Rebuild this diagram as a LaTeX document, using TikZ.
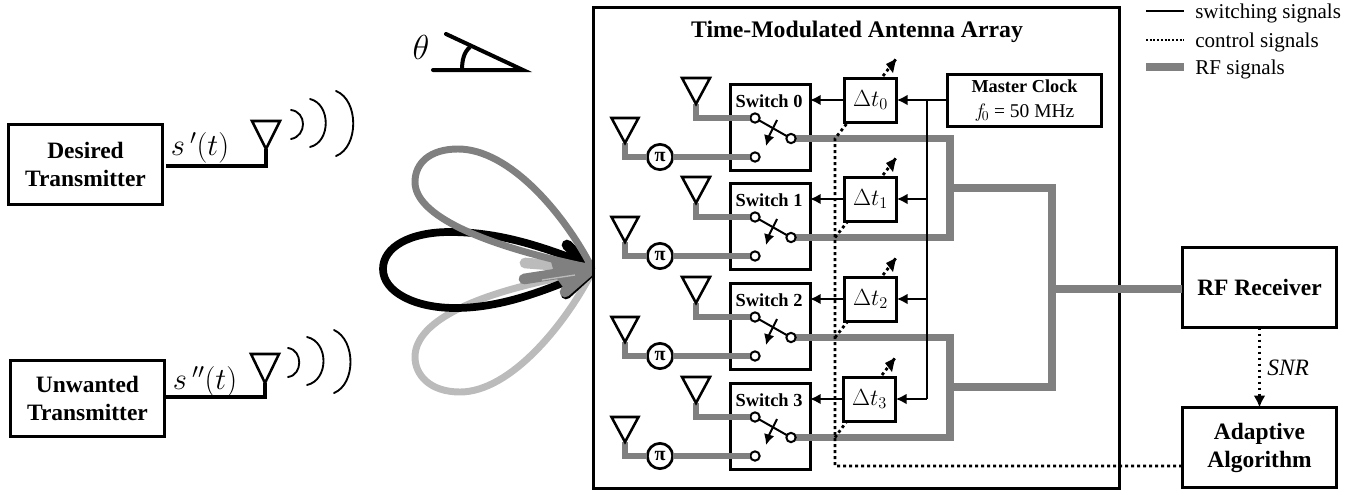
\documentclass[tikz,border=0pt]{standalone}
\usepackage{fix-cm}
\usepackage{fontspec}
\setmainfont{Liberation Serif}
\usetikzlibrary{arrows.meta}
\definecolor{rfgray}{HTML}{808080}
\definecolor{lobelight}{HTML}{BBBBBB}
\tikzset{
  x=0.75pt,y=-0.75pt,
  box/.style={draw,line width=2.25pt,inner sep=0pt,outer sep=0pt,align=center},
  mainbox/.style={box,font=\fontsize{17.6}{21}\selectfont\bfseries,minimum width=116pt,minimum height=60pt},
  switchbox/.style={box,minimum width=60pt,minimum height=64pt},
  delaybox/.style={box,minimum width=39.5pt,minimum height=33pt},
  rf/.style={draw=rfgray,line width=5.7pt},
  rfthin/.style={draw=rfgray,line width=4.4pt},
  antenna/.style={draw,line width=1.9pt,line join=miter,fill=white},
  feed/.style={draw,line width=3pt},
  ctrl/.style={line width=2.1pt,dash pattern=on 2.2pt off 2.3pt},
  sw/.style={line width=1.5pt,-{Latex[length=8pt,width=8pt]}},
  ctip/.style={-{Latex[length=9pt,width=9pt]}},
  contact/.style={circle,draw,line width=1.5pt,fill=white,minimum size=7pt,inner sep=0pt,outer sep=0pt},
  phase/.style={circle,draw,line width=2pt,fill=white,minimum size=19pt,inner sep=0pt,outer sep=0pt,font=\fontsize{15}{15}\selectfont\bfseries},
  wave/.style={line width=1.4pt,line cap=round},
  lobe/.style={line width=5.2pt,line join=round},
  barb/.style={line width=8pt,line cap=round},
  legendtxt/.style={anchor=west,inner sep=0pt,font=\fontsize{15.8}{16}\selectfont},
}
\begin{document}
\begin{tikzpicture}
\useasboundingbox (0,0) rectangle (1364,493);

% lobes
\draw[lobelight,lobe] (592,272) .. controls (565,325) and (510,392) .. (460,392) .. controls (430,392) and (415,375) .. (415,357) .. controls (415,320) and (480,290) .. (592,272);
\draw[lobelight,barb] (525,263) -- (590,268);
\draw[black,lobe,line width=5.8pt] (590,265) .. controls (550,250) and (505,232) .. (450,232) .. controls (410,232) and (383,247) .. (383,269) .. controls (383,292) and (415,308) .. (455,308) .. controls (505,308) and (550,288) .. (590,272);
\draw[black,barb] (567,245) -- (588,265);
\draw[black,barb] (566,294) -- (588,274);
\draw[rfgray,lobe] (592,268) .. controls (565,215) and (510,149) .. (458,149) .. controls (430,149) and (415,163) .. (415,182) .. controls (415,215) and (480,245) .. (592,268);
\fill[rfgray] (550,258) -- (592,264) -- (592,274) -- (565,290) -- (555,276) -- cycle;
\draw[rfgray,barb] (565,292) -- (588,272);
\draw[rfgray,barb] (524,279) -- (588,269);
\draw[lobelight,line width=1pt] (542,280) -- (575,275);

% angle
\node[inner sep=0pt,font=\fontsize{26}{26}\selectfont] (theta) at (421,47) {$\theta$};
\coordinate (apex) at (523,70);
\coordinate (baseend) at (433,70);
\coordinate (rayend) at (446,34);
\draw[line width=3pt,line cap=round] (baseend) -- (apex) -- (rayend);
\draw[line width=3pt] (462,70) .. controls (462,60) and (464,52) .. (470,47);

% transmitters
\node[mainbox] (tx1) at (85.5,164) {Desired\\Transmitter};
\node[mainbox,minimum height=57pt] (tx2) at (87.5,398) {\raisebox{-1pt}{Unwanted}\\\raisebox{-1pt}{Transmitter}};
\node[inner sep=0pt,font=\fontsize{23}{23}\selectfont] (s1) at (200,148) {$s\,'(t)$};
\node[inner sep=0pt,font=\fontsize{23}{23}\selectfont] (s2) at (205,382) {$s\,''(t)$};
\coordinate (w1) at (166,166); \coordinate (w1c) at (266,166); \coordinate (t1) at (266,149);
\coordinate (w2) at (165,397); \coordinate (w2c) at (265,397); \coordinate (t2) at (265,383);
\draw[feed,line join=miter] (w1) -- (w1c) -- (t1);
\draw[feed,line join=miter] (w2) -- (w2c) -- (t2);
\draw[antenna] (t1) -- (252,121) -- (280,121) -- cycle;
\draw[antenna] (t2) -- (251,354) -- (279,354) -- cycle;
\draw[wave] (291,110) .. controls (307,112) and (307,136) .. (291,139);
\draw[wave] (310,99) .. controls (331,104) and (331,142) .. (310,147);
\draw[wave] (336,91) .. controls (359,100) and (359,147) .. (336,156);
\draw[wave] (288,348) .. controls (303,350) and (303,375) .. (288,377);
\draw[wave] (307,337) .. controls (329,342) and (329,380) .. (307,385);
\draw[wave] (334,330) .. controls (356,340) and (356,384) .. (334,393);

% array frame and blocks
\node[box,minimum width=394.5pt,minimum height=361pt] (array) at (856,248) {};
\node[inner sep=0pt,font=\fontsize{17.8}{20}\selectfont\bfseries] (title) at (857,32) {Time-Modulated Antenna Array};
\node[box,minimum width=116pt,minimum height=39.5pt,font=\fontsize{13.7}{19}\selectfont] (clock) at (1024.5,100.5) {\raisebox{-1.5pt}{\textbf{Master Clock}}\\\raisebox{-1.5pt}{\fontsize{14.6}{19}\selectfont$f_{\!0}$ = 50 MHz}};
\node[mainbox] (rx) at (1259.5,287.5) {RF Receiver};
\node[mainbox] (adapt) at (1259.5,447.5) {Adaptive\\Algorithm};

% RF bus
\coordinate (bA) at (950,188); \coordinate (bB) at (950,387);
\coordinate (jA) at (1052,188); \coordinate (jB) at (1052,387); \coordinate (jR) at (1052,289);
\coordinate (rxin) at (1182,289);
\draw[rf,line join=miter] (bA) -- (jA) -- (jB) -- (bB);
\draw[rf] (jR) -- (rxin);

% one row per switch
\foreach \i/\dy/\dx in {0/0/0,1/99/0,2/199/0,3/299/-1}{
  \node[switchbox] (sw\i) at (770,127.5+\dy) {};
  \node[inner sep=0pt,font=\fontsize{13.8}{14}\selectfont\bfseries] (swl\i) at (769,101+\dy) {Switch \i};
  \node[delaybox,font=\fontsize{17.5}{18}\selectfont] (dt\i) at (870.5+\dx,100+\dy) {$\Delta t_{\i}$};
  \coordinate (ta\i) at (696,104+\dy);
  \coordinate (tac\i) at (696,118+\dy);
  \coordinate (tb\i) at (625,143+\dy);
  \coordinate (tbc\i) at (625,157+\dy);
  \node[contact] (ca\i) at (755,118+\dy) {};
  \node[contact] (cb\i) at (755,157+\dy) {};
  \node[phase] (pi\i) at (660,157+\dy) {π};
  \draw[rfthin,line join=miter] (ta\i) -- (tac\i) -- (ca\i);
  \draw[rfthin,line join=miter] (tb\i) -- (tbc\i) -- (pi\i);
  \draw[rfthin] (pi\i) -- (cb\i);
  \draw[antenna] (ta\i) -- ++(-14,-26) -- ++(28,0) -- cycle;
  \draw[antenna] (tb\i) -- ++(-13.5,-25) -- ++(27,0) -- cycle;
  % output lead over the switch border
  \coordinate (ob\i) at (950,138.5+\dy);
  \draw[rf] (791,138.5+\dy) -- (ob\i);
  \node[contact] (co\i) at (791,138.5+\dy) {};
  \draw[line width=1.5pt] (ca\i) -- (co\i);
  \draw[sw] (777,120+\dy) .. controls (773,128+\dy) and (769,136+\dy) .. (766,146+\dy);
  % delay to switch
  \draw[sw] (dt\i.west) -- (dt\i.west -| sw\i.east);
  % delay-control stubs
  \coordinate (dtop\i) at (883+\dx,76+\dy);
  \coordinate (dtip\i) at (896+\dx,59+\dy);
  \coordinate (dlow\i) at (848+\dx,122+\dy);
  \coordinate (djoin\i) at (835,138.5+\dy);
}
% bus verticals
\draw[rf,line cap=rect] (ob0) -- (ob1);
\draw[rf,line cap=rect] (ob2) -- (ob3);

% clock distribution
\coordinate (clk) at (927,100);
\coordinate (clkend) at (927,399);
\draw[line width=1.5pt] (clk) -- (clkend);
\draw[sw] (clock.west |- clk) -- (dt0.east |- clk);
\draw[sw] (927,199) -- (dt1.east |- 0,199);
\draw[sw] (927,299) -- (dt2.east |- 0,299);
\draw[sw] (clkend) -- (dt3.east |- clkend);

% control signals
\coordinate (adout) at (1182,466);
\coordinate (ccorner) at (835,466);
\draw[ctrl] (adout) -- (ccorner) -- (djoin0) -- (dlow0);
\foreach \i in {1,2,3}{\draw[ctrl] (djoin\i) -- (dlow\i);}
\foreach \i in {0,1,2,3}{
  \draw[ctrl] (dtop\i) -- (dtip\i);
  \fill (dtip\i) -- ++(-10,5) -- ++(7,9) -- cycle;
}
\draw[ctrl,ctip,dash pattern=on 2.2pt off 2.3pt] (rx.south) -- (adapt.north);
\node[anchor=west,inner sep=0pt,font=\fontsize{17.6}{20}\selectfont\itshape] (snr) at (1267,368) {SNR};

% legend
\coordinate (l1a) at (1146,11); \coordinate (l1b) at (1184,11);
\coordinate (l2a) at (1146,40); \coordinate (l2b) at (1184,40);
\coordinate (l3a) at (1146,67); \coordinate (l3b) at (1184,67);
\draw[line width=1.5pt] (l1a) -- (l1b);
\draw[line width=1.5pt,dash pattern=on 1.5pt off 1.3pt] (l2a) -- (l2b);
\draw[rf] (l3a) -- (l3b);
\node[legendtxt] (leg1) at (1195,13) {switching signals};
\node[legendtxt] (leg2) at (1195,42) {control signals};
\node[legendtxt] (leg3) at (1195,69) {RF signals};
\end{tikzpicture}
\end{document}
